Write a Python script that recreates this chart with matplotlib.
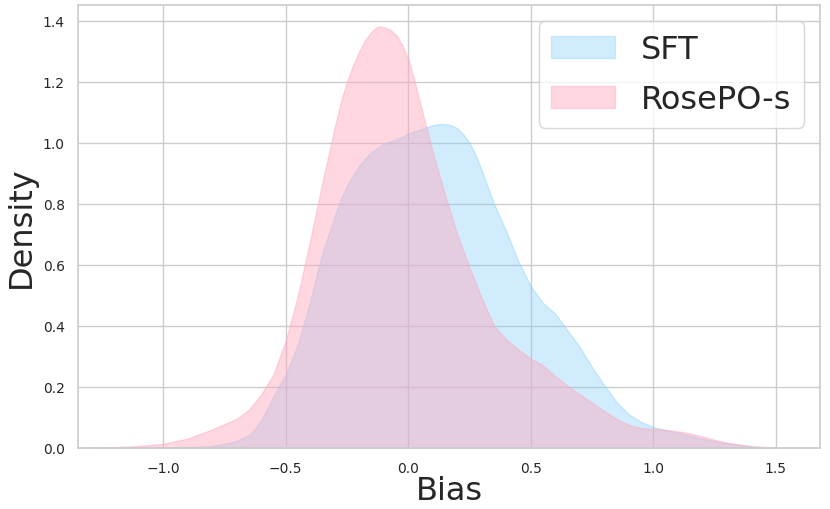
import numpy as np
import matplotlib
matplotlib.use('Agg')
import matplotlib.pyplot as plt
import matplotlib.patches as mpatches
import seaborn as sns

sns.set_theme(style='whitegrid')
plt.rcParams['font.family'] = ['DejaVu Sans']

# density curves
sft_x = [-1.0, -0.9, -0.8, -0.7, -0.65, -0.625, -0.6, -0.575, -0.55, -0.5, -0.45, -0.4,
         -0.35, -0.3, -0.275, -0.25, -0.225, -0.2, -0.175, -0.15, -0.1, -0.05, 0.0, 0.05,
         0.1, 0.125, 0.15, 0.175, 0.2, 0.225, 0.25, 0.275, 0.3, 0.35, 0.4, 0.45, 0.5,
         0.55, 0.6, 0.65, 0.7, 0.75, 0.8, 0.85, 0.9, 0.95, 1.0, 1.05, 1.1, 1.15, 1.2,
         1.3, 1.4, 1.5]
sft_y = [0.0, 0.001, 0.006, 0.022, 0.042, 0.062, 0.09, 0.128, 0.17, 0.24, 0.34, 0.48,
         0.64, 0.76, 0.815, 0.86, 0.895, 0.925, 0.95, 0.97, 0.997, 1.012, 1.03, 1.045,
         1.058, 1.062, 1.062, 1.058, 1.048, 1.028, 1.0, 0.96, 0.91, 0.80, 0.71, 0.61,
         0.53, 0.475, 0.44, 0.385, 0.33, 0.265, 0.205, 0.15, 0.11, 0.085, 0.068, 0.058,
         0.05, 0.04, 0.03, 0.015, 0.005, 0.0]

rose_x = [-1.3, -1.2, -1.1, -1.0, -0.9, -0.8, -0.7, -0.65, -0.6, -0.55, -0.5, -0.45,
          -0.4, -0.35, -0.3, -0.275, -0.25, -0.225, -0.2, -0.175, -0.15, -0.125, -0.1,
          -0.075, -0.05, -0.025, 0.0, 0.025, 0.05, 0.1, 0.15, 0.2, 0.25, 0.3, 0.35, 0.4,
          0.45, 0.5, 0.55, 0.6, 0.65, 0.7, 0.75, 0.8, 0.85, 0.9, 0.95, 1.0, 1.05, 1.1,
          1.15, 1.2, 1.25, 1.3, 1.4, 1.5]
rose_y = [0.0, 0.002, 0.006, 0.013, 0.03, 0.06, 0.095, 0.125, 0.175, 0.24, 0.35, 0.50,
          0.68, 0.87, 1.05, 1.135, 1.20, 1.255, 1.30, 1.338, 1.365, 1.381, 1.38, 1.372,
          1.355, 1.322, 1.275, 1.205, 1.125, 0.97, 0.83, 0.70, 0.59, 0.49, 0.40, 0.355,
          0.322, 0.292, 0.27, 0.235, 0.203, 0.175, 0.148, 0.12, 0.095, 0.075, 0.064,
          0.062, 0.059, 0.054, 0.047, 0.037, 0.026, 0.017, 0.005, 0.0]

labels = ['SFT', 'RosePO-s']
colors = ['#87CEFA', '#FFA8BE']

fig, ax = plt.subplots(figsize=(8.3, 5.1), dpi=100)

ax.fill_between(sft_x, sft_y, 0, facecolor=colors[0], alpha=0.38,
                edgecolor=(0.53, 0.81, 0.98, 0.6), linewidth=1)
ax.fill_between(rose_x, rose_y, 0, facecolor=colors[1], alpha=0.45,
                edgecolor=(1.0, 0.66, 0.75, 0.6), linewidth=1)

ax.set_xlim(-1.347, 1.68)
ax.set_ylim(0, 1.452)
ax.set_xticks([-1.0, -0.5, 0.0, 0.5, 1.0, 1.5])
ax.set_yticks([0.0, 0.2, 0.4, 0.6, 0.8, 1.0, 1.2, 1.4])
ax.tick_params(labelsize=10)

ax.set_xlabel('Bias', fontsize=23, labelpad=0)
ax.set_ylabel('Density', fontsize=23)

handles = [mpatches.Patch(facecolor=colors[0], alpha=0.38, edgecolor=colors[0]),
           mpatches.Patch(facecolor=colors[1], alpha=0.45, edgecolor=colors[1])]
ax.legend(handles, labels, loc='upper right', fontsize=23, labelspacing=0.6)

plt.subplots_adjust(left=0.094, right=0.988, top=0.988, bottom=0.12)
plt.savefig('out.png', dpi=100)
